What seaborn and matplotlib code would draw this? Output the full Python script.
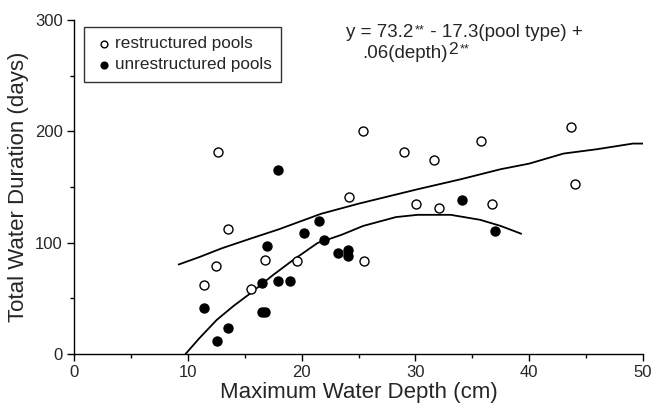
import matplotlib
matplotlib.use("Agg")
import matplotlib.pyplot as plt
import seaborn as sns
import pandas as pd
from matplotlib.ticker import MultipleLocator

# restructured pools (open circles)
restr_depth = [12.67, 13.5, 12.45, 11.45, 15.53, 16.74, 19.6, 24.16, 25.37, 25.48,
               29.04, 30.03, 31.6, 32.09, 35.79, 36.75, 43.69, 44.05]
restr_days = [181.8, 112.5, 78.9, 61.6, 58.0, 84.8, 83.6, 140.8, 200.3, 83.6,
              181.8, 134.8, 174.7, 131.0, 191.7, 134.8, 203.9, 153.0]

# unrestructured pools (filled circles)
unrestr_depth = [17.95, 11.45, 12.55, 13.5, 16.48, 17.0, 16.48, 16.8, 17.95, 19.02,
                 20.23, 21.51, 21.99, 23.2, 24.05, 24.05, 34.07, 36.97]
unrestr_days = [164.9, 41.1, 11.9, 23.8, 64.0, 97.0, 37.5, 37.5, 65.2, 65.2,
                108.9, 119.9, 102.7, 90.8, 93.2, 88.4, 138.1, 110.4]

# fitted curves
upper_x = [9.2, 11.0, 13.0, 15.5, 18.0, 21.7, 25.0, 30.2, 34.0, 37.5, 40.0, 43.0, 46.0, 49.1, 50.0]
upper_y = [80.4, 87.0, 95.0, 103.6, 112.0, 125.9, 135.0, 148.0, 157.0, 166.0, 171.0, 180.0, 184.0, 189.0, 189.0]
lower_x = [9.8, 11.0, 12.55, 14.0, 15.5, 17.5, 19.2, 21.4, 23.5, 25.4, 28.3, 30.2, 33.1, 35.7, 37.5, 39.3]
lower_y = [0.0, 14.0, 30.7, 43.0, 54.5, 71.0, 84.0, 99.7, 107.0, 115.0, 123.0, 125.0, 125.0, 120.5, 115.0, 108.0]

sns.set_theme(style="ticks")
plt.rcParams["font.family"] = ["Liberation Sans", "DejaVu Sans"]

fig = plt.figure(figsize=(6.54, 4.11), dpi=100)
ax = fig.add_axes([74 / 654, 1 - 354 / 411, (643 - 74) / 654, (354 - 20) / 411])

df_r = pd.DataFrame({"depth": restr_depth, "days": restr_days})
df_u = pd.DataFrame({"depth": unrestr_depth, "days": unrestr_days})
df_up = pd.DataFrame({"x": upper_x, "y": upper_y})
df_lo = pd.DataFrame({"x": lower_x, "y": lower_y})

sns.lineplot(data=df_up, x="x", y="y", sort=False, estimator=None, color="black", lw=1.3, ax=ax)
sns.lineplot(data=df_lo, x="x", y="y", sort=False, estimator=None, color="black", lw=1.3, ax=ax)

sns.scatterplot(data=df_r, x="depth", y="days", s=42, facecolor="white", edgecolor="black",
                linewidth=1.0, ax=ax, label="restructured pools", zorder=3)
sns.scatterplot(data=df_u, x="depth", y="days", s=42, color="black", edgecolor="black",
                linewidth=1.0, ax=ax, label="unrestructured pools", zorder=3)

ax.set_xlim(0, 50)
ax.set_ylim(0, 300)
ax.set_xticks([0, 10, 20, 30, 40, 50])
ax.set_yticks([0, 100, 200, 300])
ax.xaxis.set_minor_locator(MultipleLocator(5))
ax.yaxis.set_minor_locator(MultipleLocator(50))
ax.tick_params(which="major", length=5, width=1, labelsize=12, pad=3, color="black")
ax.tick_params(which="minor", length=3, width=1, color="black")
for s in ["top", "right"]:
    ax.spines[s].set_visible(False)
for s in ["left", "bottom"]:
    ax.spines[s].set_color("black")
    ax.spines[s].set_linewidth(1)

ax.set_xlabel("Maximum Water Depth (cm)", fontsize=16, labelpad=1)
ax.set_ylabel("Total Water Duration (days)", fontsize=16, labelpad=4)

leg = ax.legend(loc="upper left", bbox_to_anchor=(0.0176, 0.979), frameon=True, fancybox=False,
                edgecolor="black", fontsize=12.3, markerscale=0.75, handletextpad=0.05,
                borderpad=0.55, labelspacing=0.35, handlelength=1.2, borderaxespad=0)
leg.get_frame().set_linewidth(1.0)

# regression equation, built piece by piece
fs, fs_small = 13.5, 9
l1 = 0.949
t1 = ax.text(0.478, l1, "y = 73.2", transform=ax.transAxes, fontsize=fs, va="baseline", ha="left")
t2 = ax.annotate("**", xy=(1, l1), xycoords=(t1, ax.transAxes), xytext=(0.8, 2.5),
                 textcoords="offset points", fontsize=fs_small, va="baseline", ha="left")
t3 = ax.annotate(" - 17.3(pool type) +", xy=(1, l1), xycoords=(t2, ax.transAxes), xytext=(0.8, 0),
                 textcoords="offset points", fontsize=fs, va="baseline", ha="left")
l2 = 0.887
u1 = ax.text(0.506, l2, ".06(depth)", transform=ax.transAxes, fontsize=fs, va="baseline", ha="left")
u2 = ax.annotate("2", xy=(1, l2), xycoords=(u1, ax.transAxes), xytext=(0.8, 3),
                 textcoords="offset points", fontsize=12.5, va="baseline", ha="left")
u3 = ax.annotate("**", xy=(1, l2), xycoords=(u2, ax.transAxes), xytext=(0.8, 4),
                 textcoords="offset points", fontsize=fs_small, va="baseline", ha="left")

fig.savefig("out.png", dpi=100)
